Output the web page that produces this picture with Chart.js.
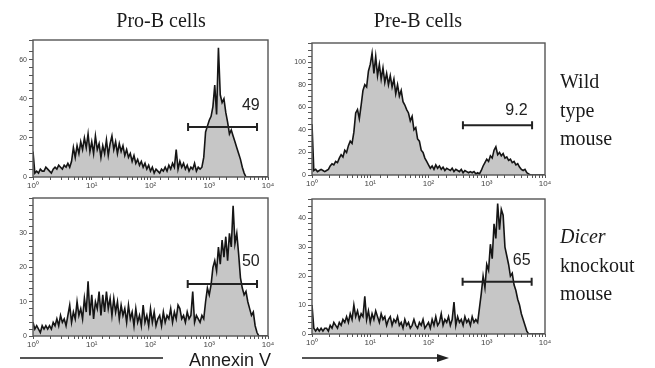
<!DOCTYPE html>
<html>
<head>
<meta charset="utf-8">
<script src="https://cdn.jsdelivr.net/npm/chart.js@4.4.1/dist/chart.umd.min.js"></script>
<style>
  body { margin: 0; background: #fff; }
  #wrap { position: relative; width: 655px; height: 368px; overflow: hidden; }
  #wrap canvas { position: absolute; left: 0; top: 0; }
  .serif { position: absolute; font-family: 'Liberation Serif', 'DejaVu Serif', serif; font-size: 20px; color: #1a1a1a; white-space: nowrap; }
  .col { width: 140px; text-align: center; line-height: 20px; }
  .row { line-height: 28.5px; }
  .axisTitle { position: absolute; left: 170px; width: 120px; top: 350px; text-align: center; line-height: 20px;
               font-family: 'Liberation Sans', Arial, sans-serif; font-size: 18px; color: #1a1a1a; }
  .rule { position: absolute; height: 2px; background: #555; }
  .head { position: absolute; width: 0; height: 0; border-left: 12px solid #222;
          border-top: 4px solid transparent; border-bottom: 4px solid transparent; }
</style>
</head>
<body>
<div id="wrap">
  <canvas id="proWt" width="655" height="368"></canvas>
  <canvas id="preWt" width="655" height="368"></canvas>
  <canvas id="proKo" width="655" height="368"></canvas>
  <canvas id="preKo" width="655" height="368"></canvas>

  <div class="serif col" style="left:91px; top:10px;">Pro-B cells</div>
  <div class="serif col" style="left:348px; top:10px;">Pre-B cells</div>
  <div class="serif row" style="left:560px; top:67px;">Wild<br>type<br>mouse</div>
  <div class="serif row" style="left:560px; top:222px;"><i>Dicer</i><br>knockout<br>mouse</div>

  <div class="rule" style="left:20px; top:357px; width:143px;"></div>
  <div class="axisTitle">Annexin V</div>
  <div class="rule" style="left:302px; top:357px; width:138px;"></div>
  <div class="head" style="left:437px; top:354px;"></div>
</div>
<script>
// counts per channel, 32 channels per decade from 10^0 to 10^4
const BINS_PER_DECADE = 32;

const proBWildType = [
  13,
  2, 3, 2, 4, 3, 3, 5, 4, 3, 2, 4, 5, 4, 6, 5, 4, 6, 5,
  7, 5, 8, 15, 10, 16, 12, 18, 14, 20, 15, 22, 13,
  18, 12, 21, 14, 17, 10, 16, 12, 19, 11, 17, 21, 14, 18, 12, 17,
  13, 16, 11, 14, 10, 12, 8, 11, 7, 9, 6, 8, 5, 7, 4, 6,
  3, 5, 2, 4, 3, 2, 4, 3, 5, 3, 6, 4, 7, 5, 14, 4,
  8, 5, 7, 4, 6, 3, 5, 4, 7, 3, 5, 4, 5, 10, 23, 26,
  29, 31, 36, 47, 32, 66, 42, 38, 40, 33, 28, 22, 24, 21, 18, 15,
  12, 9, 5, 2, 0, 0, 0, 0, 0, 0, 0, 0, 0, 0, 0, 0, 0
];

const preBWildType = [
  45,
  4, 5, 3, 4, 5, 4, 3, 4, 5,
  8, 10, 9, 12, 11, 15, 18, 16, 22, 20, 26, 30, 28, 38, 55, 58, 50, 62, 75, 80, 78, 92,
  98, 108, 90, 105, 88, 98, 85, 95, 82, 90, 80, 88, 78, 85, 72, 80,
  70, 75, 65, 62, 58, 55, 48, 52, 40, 42, 32, 30, 22, 20, 15, 12,
  9, 6, 8, 5, 9, 6, 8, 5, 7, 4, 6, 5, 4, 6, 3, 5,
  4, 3, 5, 2, 4, 3, 2, 3, 2, 3, 1, 2, 1, 4, 8, 11,
  14, 12, 17, 15, 22, 25, 18, 20, 17, 19, 15, 16, 13, 14, 11, 12,
  9, 10, 7, 5, 4, 5, 2, 1, 0, 0, 0, 0, 0, 0, 0, 0, 0
];

const proBDicer = [
  4,
  2, 3, 2, 1, 3, 2, 3, 2, 3, 2, 4, 3,
  5, 3, 6, 4, 5, 3, 6, 9, 4, 7, 5, 10, 6, 8, 5, 11, 7, 16, 6,
  12, 5, 10, 8, 13, 6, 12, 7, 13, 8, 11, 6, 11, 7, 10, 5,
  9, 6, 8, 4, 9, 5, 7, 3, 8, 4, 6, 3, 9, 4, 6, 3,
  8, 4, 7, 3, 5, 6, 3, 7, 4, 6, 5, 8, 4, 7, 5, 9,
  8, 5, 6, 4, 7, 5, 6, 13, 4, 6, 5, 4, 6, 5, 10, 14,
  12, 15, 20, 22, 19, 26, 21, 28, 23, 29, 22, 30, 26, 38, 27, 30,
  24, 17, 14, 12, 13, 10, 8, 6, 7, 3, 1, 0, 0, 0, 0, 0, 0
];

const preBDicer = [
  10,
  2, 1, 2, 1, 2, 1, 2, 2, 1,
  3, 2, 4, 3, 2, 4, 3, 5, 4, 6, 4, 7, 5, 10, 6, 8, 5, 7, 6, 13, 5, 8,
  4, 7, 5, 8, 6, 4, 7, 5, 6, 3, 5, 6, 3, 5, 4, 6,
  3, 4, 2, 5, 3, 4, 2, 3, 5, 3, 2, 4, 3, 5, 2, 3,
  4, 2, 5, 3, 6, 3, 4, 7, 3, 5, 4, 6, 3, 5, 11, 3,
  6, 4, 5, 3, 6, 4, 5, 3, 6, 4, 5, 4, 9, 14, 20, 16,
  24, 22, 31, 26, 38, 33, 45, 36, 43, 41, 30, 27, 24, 20, 21, 17,
  15, 12, 10, 7, 5, 3, 1, 0, 0, 0, 0, 0, 0, 0, 0, 0, 0
];

// tick labels
const xTickLabels = ['10⁰', '10¹', '10²', '10³', '10⁴'];
const proWtYLabels = [0, 20, 40, 60];
const preWtYLabels = [0, 20, 40, 60, 80, 100];
const proKoYLabels = [0, 10, 20, 30];
const preKoYLabels = [0, 10, 20, 30, 40];

// gates: [from, to, level] and percent label
const proWtGate = [436, 6500, 25.5];
const preWtGate = [390, 6000, 44];
const proKoGate = [430, 6500, 15.2];
const preKoGate = [385, 5900, 18];
const gatePercent = ['49', '9.2', '50', '65'];
const gateLabelAt = [[5100, 36.7], [3240, 57.5], [5100, 21.6], [3990, 25.2]];

const Y_AXIS_W = 28;
const X_AXIS_H = 14;
const W = 655, H = 368;

const framePlugin = {
  id: 'frame',
  afterDatasetsDraw(chart) {
    const a = chart.chartArea;
    const ctx = chart.ctx;
    ctx.save();
    ctx.strokeStyle = '#555';
    ctx.lineWidth = 1.4;
    ctx.strokeRect(a.left, a.top, a.right - a.left, a.bottom - a.top);
    ctx.restore();
  }
};

const gatePlugin = {
  id: 'gate',
  afterDatasetsDraw(chart, args, opts) {
    const x = chart.scales.x, y = chart.scales.y, ctx = chart.ctx;
    const x0 = x.getPixelForValue(opts.range[0]);
    const x1 = x.getPixelForValue(opts.range[1]);
    const yy = y.getPixelForValue(opts.range[2]);
    ctx.save();
    ctx.strokeStyle = '#222';
    ctx.lineWidth = 2;
    ctx.beginPath();
    ctx.moveTo(x0, yy); ctx.lineTo(x1, yy);
    ctx.moveTo(x0, yy - 4); ctx.lineTo(x0, yy + 4);
    ctx.moveTo(x1, yy - 4); ctx.lineTo(x1, yy + 4);
    ctx.stroke();
    ctx.fillStyle = '#222';
    ctx.font = '16px "Liberation Sans", Arial, sans-serif';
    ctx.textAlign = 'center';
    ctx.textBaseline = 'middle';
    ctx.fillText(opts.text, x.getPixelForValue(opts.at[0]), y.getPixelForValue(opts.at[1]));
    ctx.restore();
  }
};

function makePanel(id, counts, box, yMax, yStep, yLabels, gate, text, at) {
  const points = counts.map((c, i) => ({ x: Math.pow(10, i / BINS_PER_DECADE), y: c }));
  return new Chart(document.getElementById(id), {
    type: 'line',
    data: {
      datasets: [{
        data: points,
        borderColor: '#151515',
        borderWidth: 1.6,
        backgroundColor: '#c6c6c6',
        fill: 'origin',
        pointRadius: 0,
        tension: 0
      }]
    },
    options: {
      responsive: false,
      animation: false,
      devicePixelRatio: 1,
      layout: {
        padding: {
          left: box.left - Y_AXIS_W,
          top: box.top,
          right: W - box.right,
          bottom: H - box.bottom - X_AXIS_H
        }
      },
      plugins: {
        legend: { display: false },
        tooltip: { enabled: false },
        gate: { range: gate, text: text, at: at }
      },
      scales: {
        x: {
          type: 'logarithmic',
          min: 1,
          max: 10000,
          border: { display: false },
          grid: { drawOnChartArea: false, drawTicks: true, tickLength: 3, tickColor: '#555' },
          ticks: {
            autoSkip: false,
            maxRotation: 0,
            minRotation: 0,
            padding: 1,
            color: '#444',
            font: { family: 'Liberation Sans', size: 8 },
            callback: (v) => {
              const e = Math.log10(v);
              return Math.abs(e - Math.round(e)) < 1e-6 ? xTickLabels[Math.round(e)] : '';
            }
          },
          afterFit: (s) => { s.height = X_AXIS_H; }
        },
        y: {
          min: 0,
          max: yMax,
          border: { display: false },
          grid: { drawOnChartArea: false, drawTicks: true, tickLength: 4, tickColor: '#555' },
          ticks: {
            stepSize: yStep,
            autoSkip: false,
            padding: 2,
            color: '#444',
            font: { family: 'Liberation Sans', size: 7 },
            callback: (v) => yLabels.includes(v) ? String(v) : ''
          },
          afterFit: (s) => { s.width = Y_AXIS_W; }
        }
      }
    },
    plugins: [framePlugin, gatePlugin]
  });
}

makePanel('proWt', proBWildType, { left: 33, top: 40, right: 268, bottom: 177 }, 70, 4, proWtYLabels, proWtGate, gatePercent[0], gateLabelAt[0]);
makePanel('preWt', preBWildType, { left: 312, top: 43, right: 545, bottom: 175 }, 117, 5, preWtYLabels, preWtGate, gatePercent[1], gateLabelAt[1]);
makePanel('proKo', proBDicer, { left: 33, top: 198, right: 268, bottom: 336 }, 40.3, 2, proKoYLabels, proKoGate, gatePercent[2], gateLabelAt[2]);
makePanel('preKo', preBDicer, { left: 312, top: 199, right: 545, bottom: 334 }, 46.6, 2, preKoYLabels, preKoGate, gatePercent[3], gateLabelAt[3]);
</script>
</body>
</html>
